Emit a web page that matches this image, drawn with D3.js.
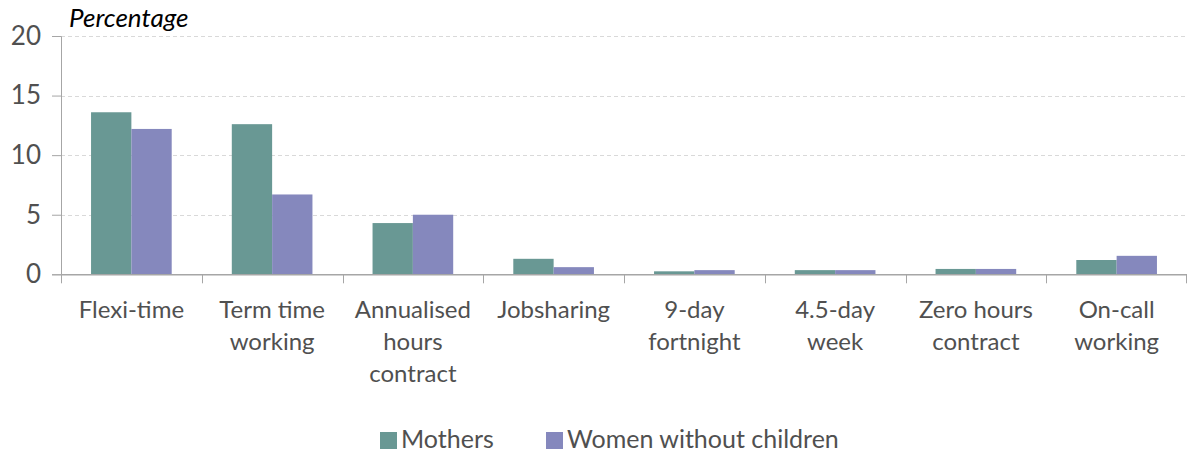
<!DOCTYPE html>
<html>
<head>
<meta charset="utf-8">
<script src="https://cdn.jsdelivr.net/npm/d3@7"></script>
<style>
  body { margin: 0; background: #fff; }
  text { font-family: Lato, "Open Sans", sans-serif; }
</style>
</head>
<body>
<div id="chart"></div>
<script>
const categories = ["Flexi-time", "Term time working", "Annualised hours contract", "Jobsharing",
  "9-day fortnight", "4.5-day week", "Zero hours contract", "On-call working"];
const categoryLines = [["Flexi-time"], ["Term time", "working"], ["Annualised", "hours", "contract"],
  ["Jobsharing"], ["9-day", "fortnight"], ["4.5-day", "week"], ["Zero hours", "contract"], ["On-call", "working"]];
const seriesNames = ["Mothers", "Women without children"];
const mothers = [13.6, 12.6, 4.3, 1.3, 0.25, 0.35, 0.45, 1.2];
const womenNoChildren = [12.2, 6.7, 5.0, 0.6, 0.35, 0.35, 0.45, 1.55];
const yTicks = [0, 5, 10, 15, 20];
const colors = ["#699894", "#8588bd"];

const width = 1187, height = 456;
const margin = { top: 36, right: 0, bottom: 182, left: 61 };

const svg = d3.select("#chart").append("svg")
  .attr("width", width)
  .attr("height", height);

const x = d3.scaleBand()
  .domain(categories)
  .range([margin.left, width - margin.right])
  .padding(0);

const xs = d3.scaleBand()
  .domain(seriesNames)
  .range([0, x.bandwidth()])
  .paddingInner(0)
  .paddingOuter(0.745);

const y = d3.scaleLinear()
  .domain([0, 20])
  .range([height - margin.bottom + 0.3, margin.top]);

const color = d3.scaleOrdinal().domain(seriesNames).range(colors);

// gridlines
svg.append("g")
  .selectAll("line")
  .data(yTicks.filter(d => d > 0))
  .join("line")
    .attr("x1", margin.left)
    .attr("x2", width - margin.right)
    .attr("y1", d => Math.round(y(d)) + 0.5)
    .attr("y2", d => Math.round(y(d)) + 0.5)
    .attr("stroke", "#d9d9d9")
    .attr("stroke-dasharray", "4,3");

// bars
const rows = categories.map((c, i) => ({ cat: c, values: [mothers[i], womenNoChildren[i]] }));
svg.append("g")
  .selectAll("g")
  .data(rows)
  .join("g")
    .attr("transform", d => `translate(${x(d.cat)},0)`)
  .selectAll("rect")
  .data(d => d.values.map((v, j) => ({ key: seriesNames[j], value: v })))
  .join("rect")
    .attr("x", d => xs(d.key))
    .attr("y", d => y(d.value))
    .attr("width", xs.bandwidth())
    .attr("height", d => y(0) - y(d.value))
    .attr("fill", d => color(d.key));

// y axis
const yAxis = svg.append("g")
  .attr("transform", `translate(${margin.left},0)`)
  .call(d3.axisLeft(y).tickValues(yTicks).tickSize(9).tickPadding(11));
yAxis.select(".domain").attr("stroke", "#a6a6a6");
yAxis.selectAll(".tick line").attr("stroke", "#a6a6a6");
yAxis.selectAll(".tick text")
  .attr("font-size", 26)
  .attr("fill", "#505050")
  .attr("font-family", "Lato, sans-serif");

// x axis
const xAxis = svg.append("g")
  .attr("transform", `translate(0,${y(0)})`)
  .call(d3.axisBottom(x).tickSize(0).tickFormat(""));
xAxis.select(".domain").attr("stroke", "#a6a6a6").attr("stroke-width", 1.5);
svg.append("g")
  .selectAll("line")
  .data(categories.concat([null]))
  .join("line")
    .attr("x1", (d, i) => Math.round(i < categories.length ? x(d) : x.range()[1] - 1) + 0.5)
    .attr("x2", (d, i) => Math.round(i < categories.length ? x(d) : x.range()[1] - 1) + 0.5)
    .attr("y1", y(0))
    .attr("y2", y(0) + 9)
    .attr("stroke", "#a6a6a6");

// category labels
svg.append("g")
  .selectAll("text")
  .data(categories)
  .join("text")
    .attr("x", d => x(d) + x.bandwidth() / 2)
    .attr("y", 318)
    .attr("text-anchor", "middle")
    .attr("font-size", 24)
    .attr("fill", "#505050")
  .selectAll("tspan")
  .data((d, i) => categoryLines[i])
  .join("tspan")
    .attr("x", function () { return this.parentNode.getAttribute("x"); })
    .attr("dy", (d, i) => i === 0 ? 0 : 32)
    .text(d => d);

// axis title
svg.append("text")
  .attr("x", 69)
  .attr("y", 27)
  .attr("font-size", 26)
  .attr("font-style", "italic")
  .attr("fill", "#000")
  .text("Percentage");

// legend
const legendX = [380, 546];
const legend = svg.append("g")
  .selectAll("g")
  .data(seriesNames)
  .join("g")
    .attr("transform", (d, i) => `translate(${legendX[i]},432)`);
legend.append("rect")
  .attr("width", 17)
  .attr("height", 17)
  .attr("fill", d => color(d));
legend.append("text")
  .attr("x", 21)
  .attr("y", 16)
  .attr("font-size", 25)
  .attr("fill", "#505050")
  .text(d => d);
</script>
</body>
</html>
